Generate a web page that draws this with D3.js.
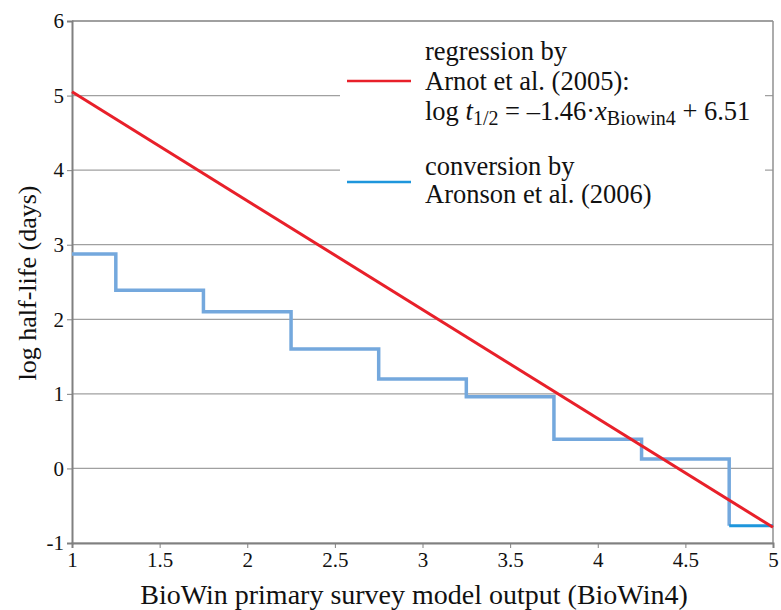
<!DOCTYPE html>
<meta charset='utf-8'>
<style>
  body { margin: 0; background: #fff; }
  svg text { font-family: 'Liberation Serif', 'Times New Roman', serif; fill: #111; }
  .grid line { stroke: #a0a0a0; stroke-width: 1.2; }
  .axis path, .axis line { stroke: #808080; }
</style>
<body>
<div id='viz'></div>
<script src='https://d3js.org/d3.v7.min.js'></script>
<script>

// Regression line endpoints (x in BioWin4 units)
var regX = [1, 5];
var regSlope = -1.46, regIntercept = 6.51;

// Step conversion by Aronson et al. (2006): break points and levels
var stepX = [1, 1.25, 1.75, 2.25, 2.75, 3.25, 3.75, 4.25, 4.75, 5];
var stepY = [2.875, 2.39, 2.1, 1.6, 1.2, 0.96, 0.39, 0.125, -0.77];

// Tick values
var xTicks = [1, 1.5, 2, 2.5, 3, 3.5, 4, 4.5, 5];
var yTicks = [-1, 0, 1, 2, 3, 4, 5, 6];

var W = 781, H = 610;
var pL = 72, pR = 773, pT = 21, pB = 543;

var x = d3.scaleLinear().domain([1, 5]).range([pL, pR]);
var y = d3.scaleLinear().domain([-1, 6]).range([pB, pT]);

var svg = d3.select('#viz').append('svg')
    .attr('width', W)
    .attr('height', H);

// Gridlines
svg.append('g').attr('class', 'grid')
  .selectAll('line').data(yTicks).enter().append('line')
    .attr('x1', pL).attr('x2', pR)
    .attr('y1', function(d) { return y(d); })
    .attr('y2', function(d) { return y(d); });

// Border top / right
svg.append('line').attr('x1', pL).attr('x2', pR).attr('y1', pT).attr('y2', pT)
    .attr('stroke', '#909090').attr('stroke-width', 1.5);
svg.append('line').attr('x1', pR).attr('x2', pR).attr('y1', pT).attr('y2', pB)
    .attr('stroke', '#909090').attr('stroke-width', 1.5);

// Axes
svg.append('g').attr('class', 'axis')
    .attr('transform', 'translate(0,' + pB + ')')
    .call(d3.axisBottom(x).tickValues(xTicks).tickSize(5).tickPadding(4)
          .tickFormat(function(d) { return String(d); }));
svg.append('g').attr('class', 'axis')
    .attr('transform', 'translate(' + pL + ',0)')
    .call(d3.axisLeft(y).tickValues(yTicks).tickSize(5).tickPadding(3)
          .tickFormat(function(d) { return String(d); }));

svg.selectAll('.axis path').attr('stroke-width', 2);
svg.selectAll('.axis text').attr('font-size', 21).attr('font-family', 'Liberation Serif').attr('fill', '#111');

// Axis titles
svg.append('text')
    .attr('x', 414)
    .attr('y', 604)
    .attr('text-anchor', 'middle')
    .attr('font-size', 28)
    .text('BioWin primary survey model output (BioWin4)');

svg.append('text')
    .attr('transform', 'translate(36,' + 283 + ') rotate(-90)')
    .attr('text-anchor', 'middle')
    .attr('font-size', 26)
    .text('log half-life (days)');

// Legend background (covers gridlines)
svg.append('rect')
    .attr('x', 340).attr('y', 32).attr('width', 425).attr('height', 182)
    .attr('fill', '#fff');

// Regression line
var regLine = d3.line()
    .x(function(d) { return x(d); })
    .y(function(d) { return y(regSlope * d + regIntercept); });

// Step line
var steps = stepY.map(function(v, i) { return [stepX[i], stepX[i + 1], v]; });
var stepPts = [];
steps.slice(0, steps.length - 1).forEach(function(s) {
  stepPts.push([s[0], s[2]]);
  stepPts.push([s[1], s[2]]);
});
var last = steps[steps.length - 1];
stepPts.push([last[0], last[2]]);

var line = d3.line()
    .x(function(d) { return x(d[0]); })
    .y(function(d) { return y(d[1]); });

svg.append('path')
    .datum(stepPts)
    .attr('d', line)
    .attr('fill', 'none')
    .attr('stroke', '#74a8dd')
    .attr('stroke-width', 3.5);

svg.append('path')
    .datum([[last[0], last[2]], [last[1], last[2]]])
    .attr('d', line)
    .attr('fill', 'none')
    .attr('stroke', '#1e96dc')
    .attr('stroke-width', 3);

svg.append('path')
    .datum(regX)
    .attr('d', regLine)
    .attr('fill', 'none')
    .attr('stroke', '#e8202a')
    .attr('stroke-width', 3);

// Legend
var lg = svg.append('g');
lg.append('line').attr('x1', 347).attr('x2', 411).attr('y1', 81).attr('y2', 81)
    .attr('stroke', '#e8202a').attr('stroke-width', 2.5);
lg.append('line').attr('x1', 347).attr('x2', 411).attr('y1', 182).attr('y2', 182)
    .attr('stroke', '#1e96dc').attr('stroke-width', 2.5);

var fs = 26.5, sub = 20;
lg.append('text').attr('x', 425).attr('y', 60).attr('font-size', fs).text('regression by');
lg.append('text').attr('x', 425).attr('y', 90).attr('font-size', fs).text('Arnot et al. (2005):');
var eq = lg.append('text').attr('x', 425).attr('y', 120).attr('font-size', fs);
eq.append('tspan').text('log ');
eq.append('tspan').attr('font-style', 'italic').text('t');
eq.append('tspan').attr('font-size', sub).attr('dy', 5).text('1/2');
eq.append('tspan').attr('dy', -5).text(' = \u20131.46\u00b7');
eq.append('tspan').attr('font-style', 'italic').text('x');
eq.append('tspan').attr('font-size', sub).attr('dy', 5).text('Biowin4');
eq.append('tspan').attr('dy', -5).text(' + 6.51');

lg.append('text').attr('x', 425).attr('y', 175).attr('font-size', fs).text('conversion by');
lg.append('text').attr('x', 425).attr('y', 203).attr('font-size', fs).text('Aronson et al. (2006)');

</script>
</body>
